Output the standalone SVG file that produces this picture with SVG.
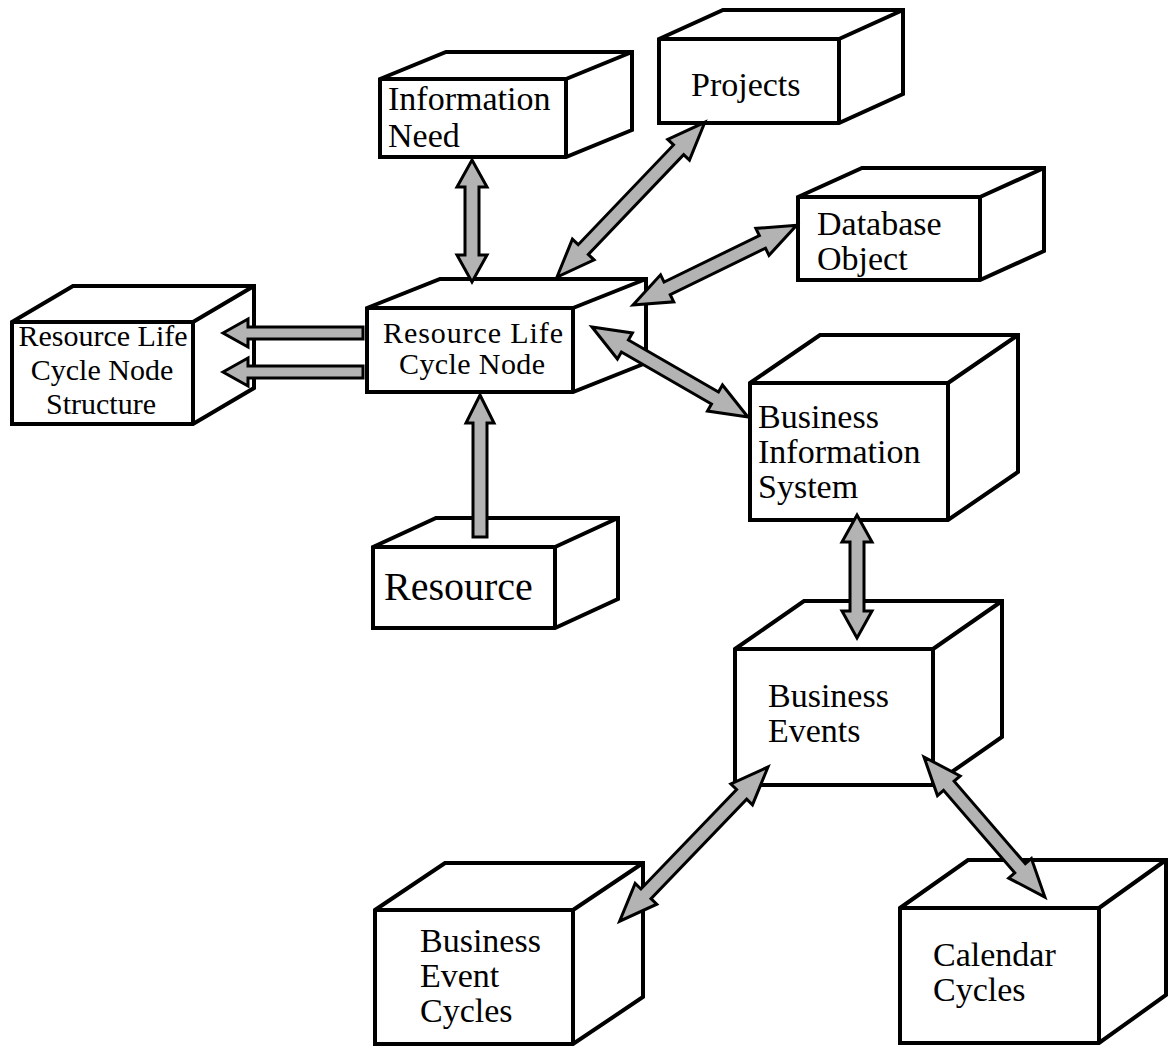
<svg xmlns="http://www.w3.org/2000/svg" width="1169" height="1047" viewBox="0 0 1169 1047">
  <style>
    .face { fill: #ffffff; stroke: #000000; stroke-width: 4; stroke-linejoin: miter; }
    .edge { fill: none; stroke: #000000; stroke-width: 4; stroke-linejoin: miter; }
    .arrow { fill: #b3b3b3; stroke: #000000; stroke-width: 3; stroke-linejoin: miter; stroke-miterlimit: 8; }
    text { font-family: "Liberation Serif", "Times New Roman", serif; fill: #000000; font-size: 34px; }
    text.mid { text-anchor: middle; }
    text.small { font-size: 30px; }
    text.large { font-size: 40px; }
  </style>
  <rect width="1169" height="1047" fill="#ffffff"/>

  <g id="information-need">
    <path class="face" d="M380,79 L446,52 L632,52 L632,130 L566,157 L380,157 Z"/>
    <path class="edge" d="M380,79 H566 V157 M566,79 L632,52"/>
    <text x="388" y="110">Information</text>
    <text x="388" y="147">Need</text>
  </g>

  <g id="projects">
    <path class="face" d="M659,39 L723,10 L903,10 L903,94 L839,123 L659,123 Z"/>
    <path class="edge" d="M659,39 H839 V123 M839,39 L903,10"/>
    <text x="691" y="96">Projects</text>
  </g>

  <g id="database-object">
    <path class="face" d="M798,197 L862,168 L1044,168 L1044,251 L980,280 L798,280 Z"/>
    <path class="edge" d="M798,197 H980 V280 M980,197 L1044,168"/>
    <text x="817" y="235">Database</text>
    <text x="817" y="270">Object</text>
  </g>

  <g id="resource-life-cycle-node-structure">
    <path class="face" d="M12,322 L73,286 L254,286 L254,388 L193,424 L12,424 Z"/>
    <path class="edge" d="M12,322 H193 V424 M193,322 L254,286"/>
    <text class="mid small" x="103" y="346">Resource Life</text>
    <text class="mid small" x="102" y="380">Cycle Node</text>
    <text class="mid small" x="101" y="414">Structure</text>
  </g>

  <g id="resource-life-cycle-node">
    <path class="face" d="M367,308 L440,279 L646,279 L646,363 L573,392 L367,392 Z"/>
    <path class="edge" d="M367,308 H573 V392 M573,308 L646,279"/>
    <text class="mid small" x="473" y="343" textLength="180" lengthAdjust="spacing">Resource Life</text>
    <text class="mid small" x="472" y="374" textLength="146" lengthAdjust="spacing">Cycle Node</text>
  </g>

  <g id="resource">
    <path class="face" d="M373,547 L436,518 L618,518 L618,599 L555,628 L373,628 Z"/>
    <path class="edge" d="M373,547 H555 V628 M555,547 L618,518"/>
    <text class="large" x="384" y="600">Resource</text>
  </g>

  <g id="business-information-system">
    <path class="face" d="M750,383 L820,335 L1018,335 L1018,472 L948,520 L750,520 Z"/>
    <path class="edge" d="M750,383 H948 V520 M948,383 L1018,335"/>
    <text x="758" y="428">Business</text>
    <text x="758" y="463">Information</text>
    <text x="758" y="498">System</text>
  </g>

  <g id="business-events">
    <path class="face" d="M735,649 L804,601 L1002,601 L1002,737 L933,785 L735,785 Z"/>
    <path class="edge" d="M735,649 H933 V785 M933,649 L1002,601"/>
    <text x="768" y="707">Business</text>
    <text x="768" y="742">Events</text>
  </g>

  <g id="business-event-cycles">
    <path class="face" d="M375,910 L445,863 L643,863 L643,997 L573,1044 L375,1044 Z"/>
    <path class="edge" d="M375,910 H573 V1044 M573,910 L643,863"/>
    <text x="420" y="952">Business</text>
    <text x="420" y="987">Event</text>
    <text x="420" y="1022">Cycles</text>
  </g>

  <g id="calendar-cycles">
    <path class="face" d="M900,908 L968,860 L1166,860 L1166,995 L1099,1043 L900,1043 Z"/>
    <path class="edge" d="M900,908 H1099 V1043 M1099,908 L1166,860"/>
    <text x="933" y="966">Calendar</text>
    <text x="933" y="1001">Cycles</text>
  </g>

  <!-- block arrows: each drawn along the x axis from its first tip, then placed with a transform -->
  <g id="connectors">
    <path class="arrow" transform="translate(472,160) rotate(90)" d="M0,0 L27,-15 L27,-7 L95,-7 L95,-15 L122,0 L95,15 L95,7 L27,7 L27,15 Z"/>
    <path class="arrow" transform="translate(557,277) rotate(-46.3)" d="M0,0 L38,-15 L38,-7 L176,-7 L176,-15 L214,0 L176,15 L176,7 L38,7 L38,15 Z"/>
    <path class="arrow" transform="translate(633,305) rotate(-26)" d="M0,0 L38,-15 L38,-7 L144,-7 L144,-15 L182,0 L144,15 L144,7 L38,7 L38,15 Z"/>
    <path class="arrow" transform="translate(592,327) rotate(30)" d="M0,0 L38,-15 L38,-7 L142,-7 L142,-15 L180,0 L142,15 L142,7 L38,7 L38,15 Z"/>
    <path class="arrow" transform="translate(857,515) rotate(90)" d="M0,0 L27,-15 L27,-7 L96,-7 L96,-15 L123,0 L96,15 L96,7 L27,7 L27,15 Z"/>
    <path class="arrow" transform="translate(768,767) rotate(133.9)" d="M0,0 L38,-15 L38,-7 L176,-7 L176,-15 L214,0 L176,15 L176,7 L38,7 L38,15 Z"/>
    <path class="arrow" transform="translate(924,757) rotate(49.2)" d="M0,0 L38,-15 L38,-7 L147,-7 L147,-15 L185,0 L147,15 L147,7 L38,7 L38,15 Z"/>
    <path class="arrow" transform="translate(223,333)" d="M0,0 L25,-14 L25,-6 L140,-6 L140,6 L25,6 L25,14 Z"/>
    <path class="arrow" transform="translate(223,372)" d="M0,0 L25,-14 L25,-6 L140,-6 L140,6 L25,6 L25,14 Z"/>
    <path class="arrow" transform="translate(480,395) rotate(90)" d="M0,0 L28,-14 L28,-7 L142,-7 L142,7 L28,7 L28,14 Z"/>
  </g>
</svg>
